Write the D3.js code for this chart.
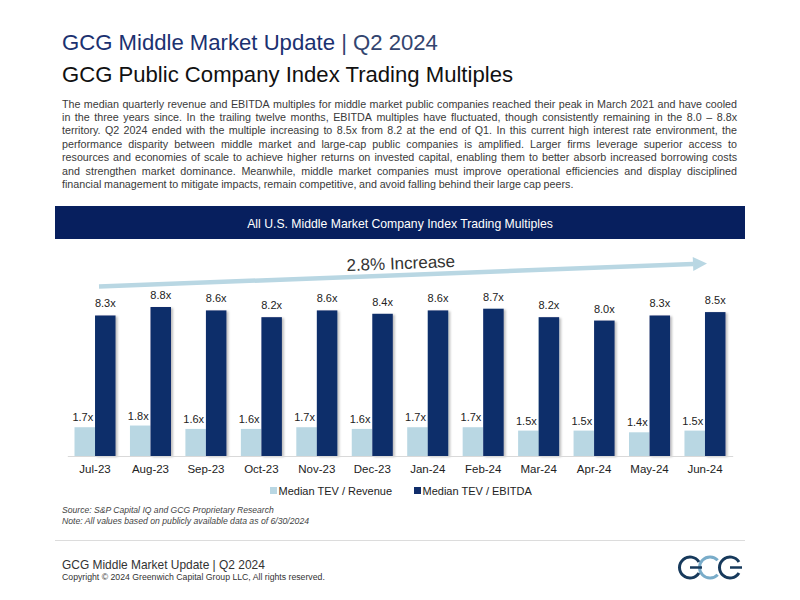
<!DOCTYPE html>
<html>
<head>
<meta charset="utf-8">
<script src="https://cdn.jsdelivr.net/npm/d3@7"></script>
<style>
  html, body { margin: 0; padding: 0; background: #fff; }
  svg { display: block; font-family: "Liberation Sans", Arial, sans-serif; }
  .narrow { font-family: "Liberation Sans Narrow", "Arial Narrow", "Liberation Sans", Arial, sans-serif; }
</style>
</head>
<body>
<div id="chart"></div>
<script>
// data
var months = ["Jul-23", "Aug-23", "Sep-23", "Oct-23", "Nov-23", "Dec-23",
              "Jan-24", "Feb-24", "Mar-24", "Apr-24", "May-24", "Jun-24"];
var tevRevenue = [1.7, 1.8, 1.6, 1.6, 1.7, 1.6, 1.7, 1.7, 1.5, 1.5, 1.4, 1.5];
var tevEbitda  = [8.3, 8.8, 8.6, 8.2, 8.6, 8.4, 8.6, 8.7, 8.2, 8.0, 8.3, 8.5];
var seriesNames = ["Median TEV / Revenue", "Median TEV / EBITDA"];
var seriesColors = ["#b9d7e3", "#102d6a"];

var bodyLines = [
  "The median quarterly revenue and EBITDA multiples for middle market public companies reached their peak in March 2021 and have cooled",
  "in the three years since. In the trailing twelve months, EBITDA multiples have fluctuated, though consistently remaining in the 8.0 \u2013 8.8x",
  "territory. Q2 2024 ended with the multiple increasing to 8.5x from 8.2 at the end of Q1. In this current high interest rate environment, the",
  "performance disparity between middle market and large-cap public companies is amplified. Larger firms leverage superior access to",
  "resources and economies of scale to achieve higher returns on invested capital, enabling them to better absorb increased borrowing costs",
  "and strengthen market dominance. Meanwhile, middle market companies must improve operational efficiencies and display disciplined",
  "financial management to mitigate impacts, remain competitive, and avoid falling behind their large cap peers."
];

var W = 800, H = 600;
var svg = d3.select("#chart").append("svg").attr("width", W).attr("height", H);

var defs = svg.append("defs");
defs.append("filter").attr("id", "shadow").attr("x", "-20%").attr("width", "150%")
  .append("feDropShadow").attr("dx", 2).attr("dy", 1).attr("stdDeviation", 1)
  .attr("flood-color", "#000").attr("flood-opacity", 0.25);

// fit a text element to a given width by adjusting font size
function fitWidth(sel, target) {
  var fs = parseFloat(sel.attr("font-size"));
  var w = sel.node().getComputedTextLength();
  sel.attr("font-size", (fs * target / w).toFixed(2));
  return sel;
}

// ---- header
var title = svg.append("text").attr("x", 62).attr("y", 49.5)
  .attr("font-size", 22).attr("fill", "#1b3170");
title.append("tspan").text("GCG Middle Market Update");
title.append("tspan").attr("fill", "#33456f").text(" | Q2 2024");
fitWidth(title, 376);

fitWidth(svg.append("text").attr("x", 62).attr("y", 81.5)
  .attr("font-size", 21).attr("fill", "#111")
  .text("GCG Public Company Index Trading Multiples"), 451);

// ---- body paragraph, justified
var bodyLeft = 62, bodyRight = 737, lineH = 13.4, firstBase = 107.5;
var body = svg.append("g").attr("class", "narrow").attr("fill", "#3a3a3a");
var probe = body.append("text").attr("font-size", 11).text(bodyLines[6]);
var bodyFs = 11 * 516 / probe.node().getComputedTextLength();
probe.remove();
body.attr("font-size", bodyFs);

bodyLines.forEach(function (line, li) {
  var words = line.split(" ");
  var y = firstBase + li * lineH;
  var t = body.append("text").attr("y", y);
  var widths = words.map(function (w) {
    var s = t.append("tspan").text(w);
    var wd = s.node().getComputedTextLength();
    s.remove();
    return wd;
  });
  var total = d3.sum(widths);
  var space = (li === bodyLines.length - 1) ? bodyFs * 0.25
            : (bodyRight - bodyLeft - total) / (words.length - 1);
  var x = bodyLeft;
  words.forEach(function (w, i) {
    t.append("tspan").attr("x", x).attr("y", y).text(w);
    x += widths[i] + space;
  });
});

// ---- banner
svg.append("rect").attr("x", 55).attr("y", 206).attr("width", 690).attr("height", 33)
  .attr("fill", "#071f5e");
fitWidth(svg.append("text").attr("class", "narrow").attr("x", 400).attr("y", 227.5)
  .attr("text-anchor", "middle").attr("font-size", 12).attr("fill", "#fff")
  .text("All U.S. Middle Market Company Index Trading Multiples"), 306);

// ---- chart
var baseY = 456, pxPerUnit = 16.93;
var x0 = d3.scaleBand().domain(months).range([67.3, 732.7])
  .paddingInner(0.26).paddingOuter(0.13);
var x1 = d3.scaleBand().domain([0, 1]).range([0, x0.bandwidth()]).padding(0);
var y = d3.scaleLinear().domain([0, 10]).range([baseY, baseY - 10 * pxPerUnit]);

var rows = months.map(function (m, i) {
  return { month: m, values: [tevRevenue[i], tevEbitda[i]] };
});

var groups = svg.append("g").selectAll("g.month").data(rows).enter().append("g")
  .attr("class", "month")
  .attr("transform", function (d) { return "translate(" + x0(d.month) + ",0)"; });

groups.selectAll("rect").data(function (d) { return d.values; }).enter().append("rect")
  .attr("x", function (d, i) { return x1(i); })
  .attr("y", function (d) { return y(d); })
  .attr("width", x1.bandwidth())
  .attr("height", function (d) { return baseY - y(d); })
  .attr("fill", function (d, i) { return seriesColors[i]; })
  .attr("filter", function (d, i) { return i === 1 ? "url(#shadow)" : null; });

groups.selectAll("text").data(function (d) { return d.values; }).enter().append("text")
  .attr("x", function (d, i) { return x1(i) + x1.bandwidth() / 2 - (i === 0 ? 2 : 0); })
  .attr("y", function (d, i) { return y(d) - (i === 0 ? 6 : 8); })
  .attr("text-anchor", "middle")
  .attr("font-size", 11).attr("fill", "#222")
  .text(function (d) { return d.toFixed(1) + "x"; });

var xAxis = svg.append("g").attr("transform", "translate(0," + baseY + ")")
  .call(d3.axisBottom(x0).tickSize(0).tickSizeOuter(0).tickPadding(8.5));
xAxis.select(".domain").attr("stroke", "#d9d9d9").attr("stroke-width", 1);
xAxis.selectAll("text").attr("font-size", 11.5).attr("fill", "#222")
  .attr("font-family", "\"Liberation Sans\", Arial, sans-serif");

// ---- trend arrow annotation
var arrowStart = [99, 286.5], arrowEnd = [707, 263.5];
var ang = Math.atan2(arrowEnd[1] - arrowStart[1], arrowEnd[0] - arrowStart[0]);
var headLen = 14, headHalf = 7;
var neck = [arrowEnd[0] - headLen * Math.cos(ang), arrowEnd[1] - headLen * Math.sin(ang)];
svg.append("line")
  .attr("x1", arrowStart[0]).attr("y1", arrowStart[1])
  .attr("x2", neck[0]).attr("y2", neck[1])
  .attr("stroke", "#b9d7e3").attr("stroke-width", 4.5);
svg.append("path")
  .attr("d", d3.line()([
    [neck[0] + headHalf * Math.sin(ang), neck[1] - headHalf * Math.cos(ang)],
    arrowEnd,
    [neck[0] - headHalf * Math.sin(ang), neck[1] + headHalf * Math.cos(ang)]
  ]) + "Z")
  .attr("fill", "#b9d7e3");
svg.append("text")
  .attr("transform", "translate(401,269) rotate(" + (ang * 180 / Math.PI) + ")")
  .attr("text-anchor", "middle").attr("font-size", 17).attr("fill", "#333")
  .text("2.8% Increase");

// ---- legend
var legend = svg.append("g").selectAll("g").data(seriesNames).enter().append("g")
  .attr("transform", function (d, i) { return "translate(" + (i === 0 ? 270 : 414) + ",487)"; });
legend.append("rect").attr("width", 7).attr("height", 7)
  .attr("fill", function (d, i) { return seriesColors[i]; });
legend.append("text").attr("x", 8.5).attr("y", 7.5)
  .attr("font-size", 11).attr("fill", "#222")
  .text(function (d) { return d; });

// ---- source notes
fitWidth(svg.append("text").attr("class", "narrow").attr("x", 62).attr("y", 513).attr("font-size", 9)
  .attr("font-style", "italic").attr("fill", "#444")
  .text("Source: S&P Capital IQ and GCG Proprietary Research"), 212);
fitWidth(svg.append("text").attr("class", "narrow").attr("x", 62).attr("y", 524).attr("font-size", 9)
  .attr("font-style", "italic").attr("fill", "#444")
  .text("Note: All values based on publicly available data as of 6/30/2024"), 247);

// ---- footer
svg.append("line").attr("x1", 55).attr("x2", 745).attr("y1", 540.5).attr("y2", 540.5)
  .attr("stroke", "#dcdcdc").attr("stroke-width", 1);
fitWidth(svg.append("text").attr("class", "narrow").attr("x", 62).attr("y", 568.5).attr("font-size", 12)
  .attr("fill", "#333").text("GCG Middle Market Update | Q2 2024"), 203);
fitWidth(svg.append("text").attr("class", "narrow").attr("x", 62).attr("y", 580).attr("font-size", 9)
  .attr("fill", "#333")
  .text("Copyright \u00a9 2024 Greenwich Capital Group LLC, All rights reserved."), 263);

// logo: G C G rings
var logo = svg.append("g").attr("fill", "none").attr("stroke-width", 3);
var r = 10.5, cy = 567.5;
var arc = d3.arc().innerRadius(r - 1.5).outerRadius(r + 1.5);
function ring(cx, color, open, bar) {
  var g = logo.append("g").attr("transform", "translate(" + cx + "," + cy + ")");
  g.append("path")
    .attr("d", arc({ startAngle: Math.PI / 2 + open, endAngle: Math.PI * 2.5 - open }))
    .attr("fill", color).attr("stroke", "none");
  if (bar) {
    g.append("line").attr("x1", 0).attr("x2", r + 1.5).attr("y1", 0).attr("y2", 0)
      .attr("stroke", color).attr("stroke-width", 2.5);
  }
}
ring(710, "#79acc9", 0.75, false);
ring(690, "#173a5c", 0.55, true);
ring(730, "#173a5c", 0.55, true);
</script>
</body>
</html>
